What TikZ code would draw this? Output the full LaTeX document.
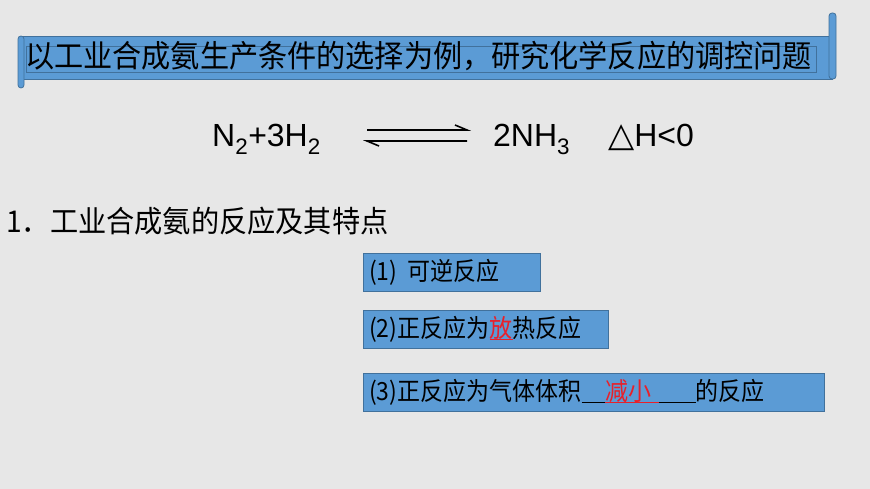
\documentclass[tikz,border=0pt]{standalone}
\usepackage{fontspec}
\setmainfont{Liberation Sans}
\newfontfamily\cjk{Noto Sans CJK SC}
\definecolor{bg}{HTML}{E7E7E7}
\definecolor{boxb}{HTML}{5B9BD5}
\definecolor{boxd}{HTML}{41719C}
\definecolor{red1}{HTML}{E8202A}
\newcommand{\myul}[1]{\setbox0\hbox{#1}\rlap{\rule[-3pt]{\wd0}{1.2pt}}\box0}
\tikzset{itembox/.style={draw=boxd,fill=boxb,line width=0.8pt,anchor=north west,inner sep=0pt,minimum height=38pt},
 itemtext/.style={anchor=west,font=\cjk\fontsize{25}{28}\selectfont,inner sep=0pt,xscale=0.92}}
\begin{document}
\begin{tikzpicture}[x=1pt,y=-1pt]
\fill[bg] (0,0) rectangle (870,489);
\useasboundingbox (0,0) rectangle (870,489);
% scroll banner
\fill[boxb,draw=boxd,line width=0.8pt] (20,36) rectangle (832,79);
\fill[boxb,draw=boxd,line width=0.8pt,rounded corners=3pt] (18,36) rectangle (24,88);
\fill[boxb,draw=boxd,line width=0.8pt,rounded corners=3pt] (829,13) rectangle (836,79);
\draw[boxd,line width=0.6pt] (26,46) rectangle (816,72);
\node[anchor=west,inner sep=0pt,font=\cjk\fontsize{31}{34}\selectfont,xscale=0.94] (title) at (25,56) {以工业合成氨生产条件的选择为例，研究化学反应的调控问题};
% equation
\node[anchor=base west,inner sep=0pt,font=\fontsize{32}{36}\selectfont] (lhs) at (212,147) {N\textsubscript{2}+3H\textsubscript{2}};
\coordinate (a1) at (367,130); \coordinate (a2) at (467,130);
\coordinate (b1) at (367,141); \coordinate (b2) at (467,141);
\draw[line width=1.6pt] (a1) -- (a2) -- ++(-12,-5);
\draw[line width=1.6pt] (b2) -- (b1) -- ++(12,5);
\node[anchor=base west,inner sep=0pt,font=\fontsize{32}{36}\selectfont] (rhs) at (493,147) {2NH\textsubscript{3}};
\node[anchor=base west,inner sep=0pt] (dh) at (608,147) {\fontspec{DejaVu Sans}\fontsize{34}{36}\selectfont △\fontspec{Liberation Sans}\fontsize{32}{36}\selectfont H<0};
% heading
\node[anchor=west,inner sep=0pt,font=\cjk\fontsize{30}{34}\selectfont,xscale=0.94] (head) at (6,221) {1．工业合成氨的反应及其特点};
% items
\node[itembox,minimum width=177pt] (b1x) at (363,253) {};
\node[itemtext] (t1) at (369,272) {(1)\ \ 可逆反应};
\node[itembox,minimum width=245pt] (b2x) at (363,310) {};
\node[itemtext] (t2) at (369,329) {(2)正反应为\textcolor{red1}{\myul{放}}热反应};
\node[itembox,minimum width=461pt] (b3x) at (363,373) {};
\node[itemtext] (t3) at (369,392) {(3)正反应为气体体积\rule[-3pt]{26pt}{1.2pt}\textcolor{red1}{\myul{减小\hspace{8pt}}}\rule[-3pt]{40pt}{1.2pt}的反应};
\end{tikzpicture}
\end{document}
